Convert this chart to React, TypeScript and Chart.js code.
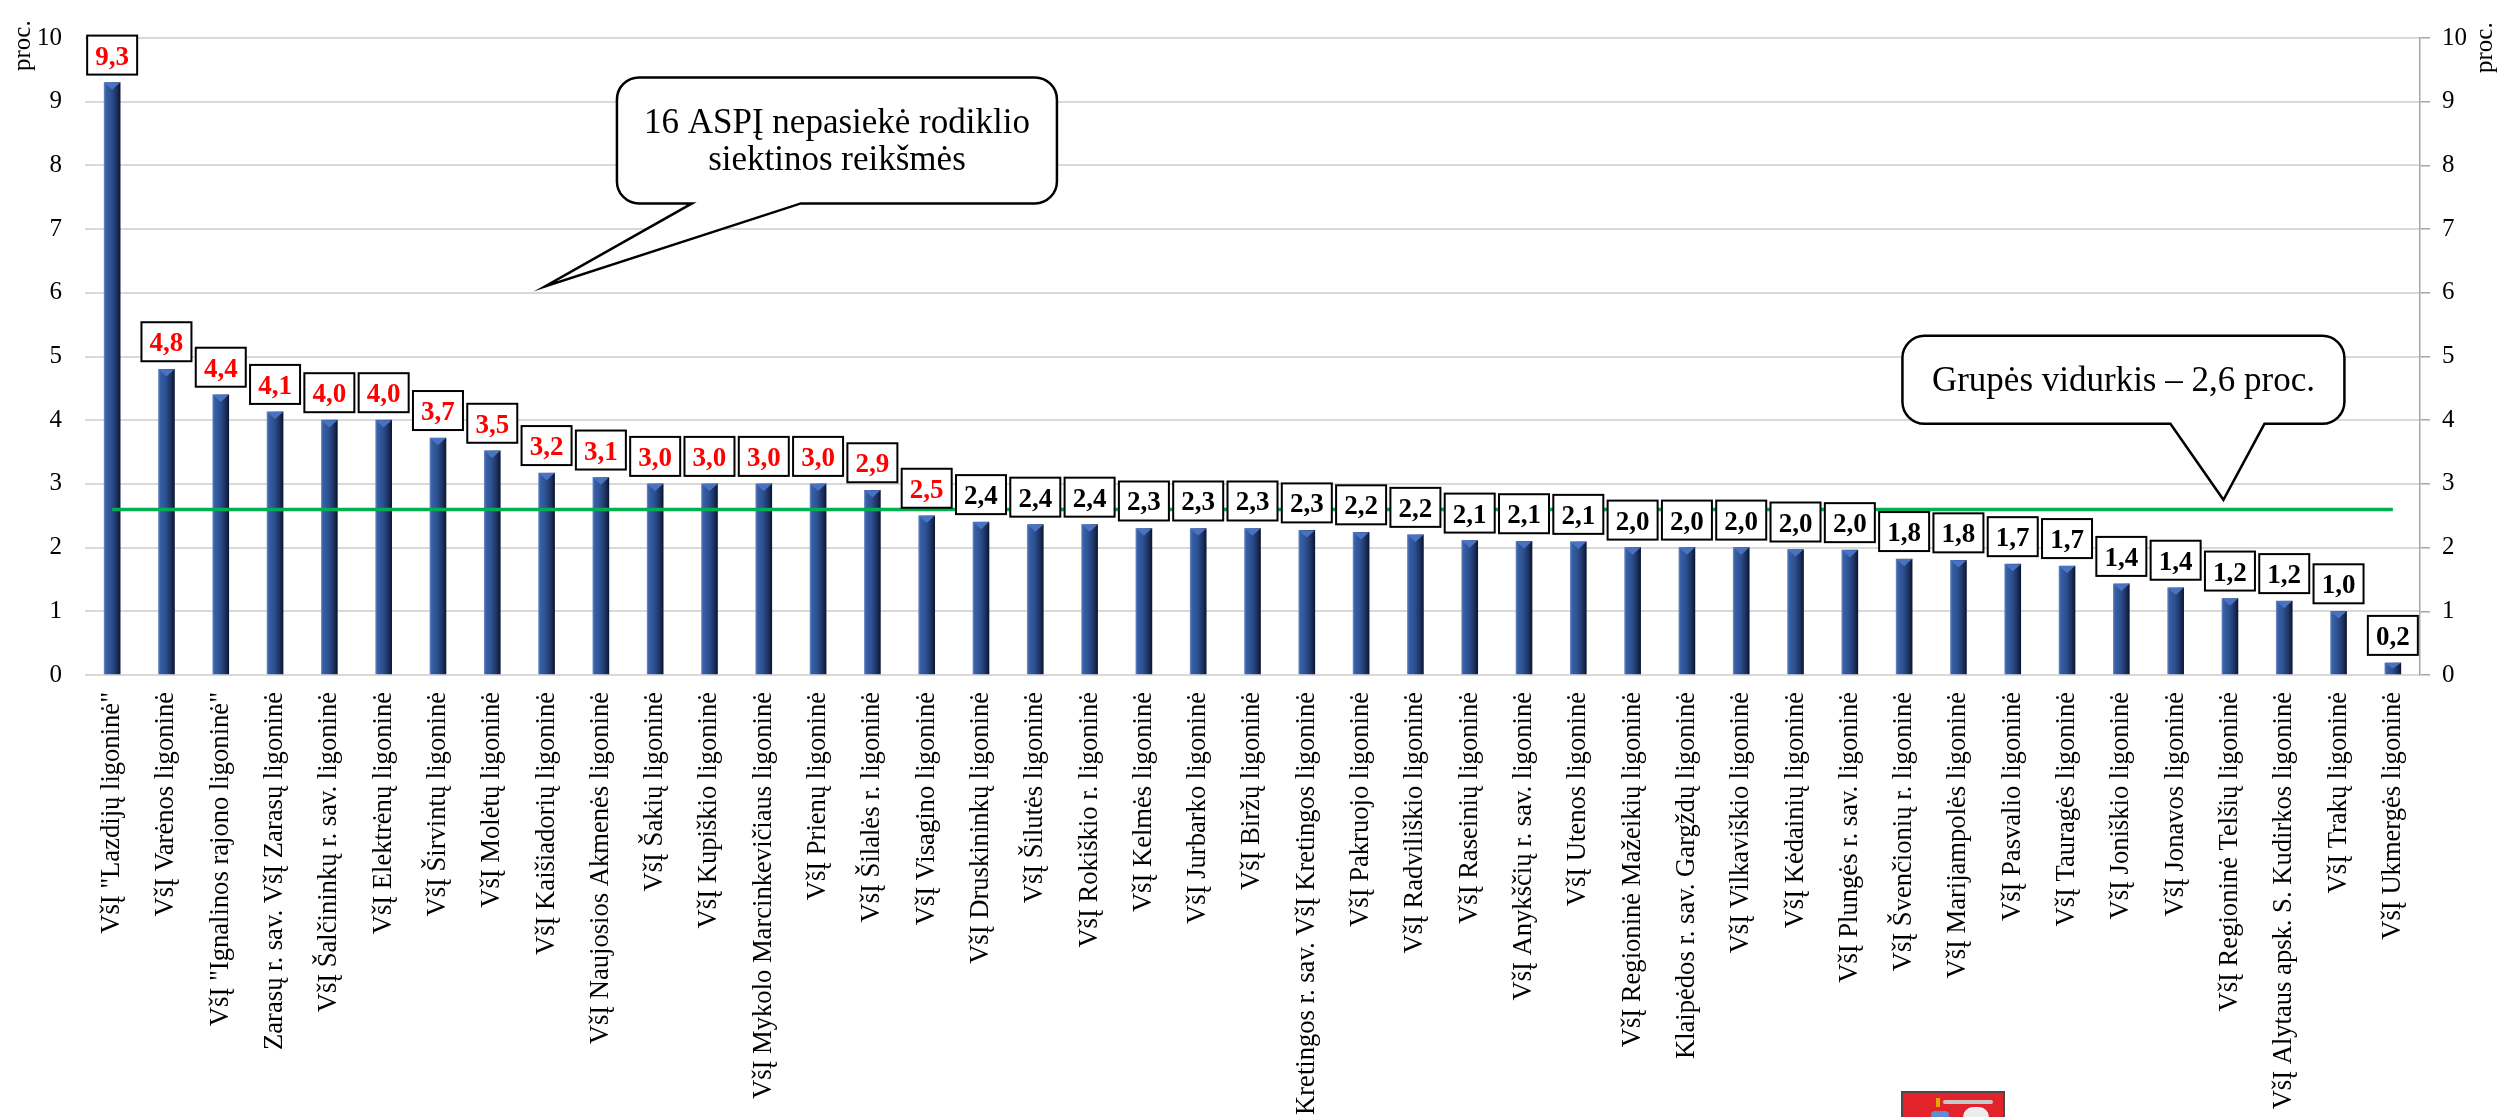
import React, { useEffect, useRef } from 'react';
import { Chart, registerables } from 'chart.js';

Chart.register(...registerables);

// ---------- data ----------
const hospitals: string[] = [
  'VšĮ "Lazdijų ligoninė"',
  'VšĮ Varėnos ligoninė',
  'VšĮ "Ignalinos rajono ligoninė"',
  'Zarasų r. sav. VšĮ Zarasų ligoninė',
  'VšĮ Šalčininkų r. sav. ligoninė',
  'VšĮ Elektrėnų ligoninė',
  'VšĮ Širvintų ligoninė',
  'VšĮ Molėtų ligoninė',
  'VšĮ Kaišiadorių ligoninė',
  'VšĮ Naujosios Akmenės ligoninė',
  'VšĮ Šakių ligoninė',
  'VšĮ Kupiškio ligoninė',
  'VšĮ Mykolo Marcinkevičiaus ligoninė',
  'VšĮ Prienų ligoninė',
  'VšĮ Šilalės r. ligoninė',
  'VšĮ Visagino ligoninė',
  'VšĮ Druskininkų ligoninė',
  'VšĮ Šilutės ligoninė',
  'VšĮ Rokiškio r. ligoninė',
  'VšĮ Kelmės ligoninė',
  'VšĮ Jurbarko ligoninė',
  'VšĮ Biržų ligoninė',
  'Kretingos r. sav. VšĮ Kretingos ligoninė',
  'VšĮ Pakruojo ligoninė',
  'VšĮ Radviliškio ligoninė',
  'VšĮ Raseinių ligoninė',
  'VšĮ Anykščių r. sav. ligoninė',
  'VšĮ Utenos ligoninė',
  'VšĮ Regioninė Mažeikių ligoninė',
  'Klaipėdos r. sav. Gargždų ligoninė',
  'VšĮ Vilkaviškio ligoninė',
  'VšĮ Kėdainių ligoninė',
  'VšĮ Plungės r. sav. ligoninė',
  'VšĮ Švenčionių r. ligoninė',
  'VšĮ Marijampolės ligoninė',
  'VšĮ Pasvalio ligoninė',
  'VšĮ Tauragės ligoninė',
  'VšĮ Joniškio ligoninė',
  'VšĮ Jonavos ligoninė',
  'VšĮ Regioninė Telšių ligoninė',
  'VšĮ Alytaus apsk. S. Kudirkos ligoninė',
  'VšĮ Trakų ligoninė',
  'VšĮ Ukmergės ligoninė',
];

const shareValues: number[] = [
  9.3, 4.8, 4.4, 4.13, 4.0, 4.0, 3.72, 3.52, 3.17, 3.1,
  3.0, 3.0, 3.0, 3.0, 2.9, 2.5, 2.4, 2.36, 2.36, 2.3,
  2.3, 2.3, 2.27, 2.24, 2.2, 2.11, 2.1, 2.09, 2.0, 2.0,
  2.0, 1.97, 1.96, 1.82, 1.8, 1.74, 1.71, 1.43, 1.37, 1.2,
  1.16, 1.0, 0.19,
];

const groupAverage = 2.6;
const missedTargetCount = 16;
const yTickValues: number[] = [0, 1, 2, 3, 4, 5, 6, 7, 8, 9, 10];
const unitLabel = 'proc.';
const targetCalloutLines: string[] = ['16 ASPĮ nepasiekė rodiklio', 'siektinos reikšmės'];
const averageCalloutText = 'Grupės vidurkis – 2,6 proc.';
const targetCalloutAnchor = { index: 7.97, value: 6.1 };
const averageCalloutAnchor = { index: 38.88, value: 2.75 };

// ---------- helpers ----------
const FONT = "'Liberation Serif', 'Times New Roman', serif";
const fmt = (v: number) => (Math.round(v * 10) / 10).toFixed(1).replace('.', ',');
const BAR_DS = 0;

function bubblePath(
  ctx: CanvasRenderingContext2D,
  l: number, t: number, r: number, b: number,
  tailL: number, tailR: number, tipX: number, tipY: number, rad: number
) {
  ctx.beginPath();
  ctx.moveTo(l + rad, t);
  ctx.lineTo(r - rad, t);
  ctx.arcTo(r, t, r, t + rad, rad);
  ctx.lineTo(r, b - rad);
  ctx.arcTo(r, b, r - rad, b, rad);
  ctx.lineTo(tailR, b);
  ctx.lineTo(tipX, tipY);
  ctx.lineTo(tailL, b);
  ctx.lineTo(l + rad, b);
  ctx.arcTo(l, b, l, b - rad, rad);
  ctx.lineTo(l, t + rad);
  ctx.arcTo(l, t, l + rad, t, rad);
  ctx.closePath();
}

const barBevel = {
  id: 'barBevel',
  afterDatasetDraw(chart: any, args: any) {
    if (args.index !== BAR_DS) return;
    const ctx = chart.ctx as CanvasRenderingContext2D;
    const meta = chart.getDatasetMeta(BAR_DS);
    ctx.save();
    meta.data.forEach((el: any) => {
      const half = el.width / 2;
      const depth = Math.min(half * 0.9, (el.base - el.y) * 0.5);
      ctx.beginPath();
      ctx.moveTo(el.x - half, el.y);
      ctx.lineTo(el.x + half, el.y);
      ctx.lineTo(el.x, el.y + depth);
      ctx.closePath();
      ctx.fillStyle = '#4A72C2';
      ctx.fill();
    });
    ctx.restore();
  },
};

const valueBoxes = {
  id: 'valueBoxes',
  afterDatasetsDraw(chart: any) {
    const ctx = chart.ctx as CanvasRenderingContext2D;
    const meta = chart.getDatasetMeta(BAR_DS);
    ctx.save();
    ctx.font = `bold 27px ${FONT}`;
    ctx.textAlign = 'center';
    ctx.textBaseline = 'alphabetic';
    meta.data.forEach((el: any, i: number) => {
      const w = 50;
      const h = 39;
      const bottom = el.y - 8;
      const top = bottom - h;
      const left = el.x - w / 2;
      ctx.fillStyle = '#ffffff';
      ctx.fillRect(left, top, w, h);
      ctx.lineWidth = 2;
      ctx.strokeStyle = '#000000';
      ctx.strokeRect(left, top, w, h);
      ctx.fillStyle = i < missedTargetCount ? '#FF0000' : '#000000';
      ctx.fillText(fmt(shareValues[i]), el.x, top + h / 2 + 9.5);
    });
    ctx.restore();
  },
};

const annotations = {
  id: 'annotations',
  afterDraw(chart: any) {
    const ctx = chart.ctx as CanvasRenderingContext2D;
    const { chartArea, scales } = chart;
    const xs = scales.x;
    const ys = scales.y;
    ctx.save();

    // unit labels
    ctx.font = `25px ${FONT}`;
    ctx.fillStyle = '#000';
    ctx.textAlign = 'left';
    ctx.textBaseline = 'alphabetic';
    ctx.save();
    ctx.translate(chartArea.left - 55, chartArea.top + 33);
    ctx.rotate(-Math.PI / 2);
    ctx.fillText(unitLabel, 0, 0);
    ctx.restore();
    ctx.save();
    ctx.translate(chartArea.right + 72, chartArea.top + 35);
    ctx.rotate(-Math.PI / 2);
    ctx.fillText(unitLabel, 0, 0);
    ctx.restore();

    ctx.lineWidth = 2.5;
    ctx.strokeStyle = '#000';
    ctx.lineJoin = 'miter';

    // callout 1
    {
      const tx = xs.getPixelForValue(targetCalloutAnchor.index);
      const ty = ys.getPixelForValue(targetCalloutAnchor.value);
      const l = tx + 72, r = tx + 512, t = ty - 209, b = ty - 83;
      bubblePath(ctx, l, t, r, b, tx + 147, tx + 256, tx, ty, 22);
      ctx.fillStyle = '#fff';
      ctx.fill();
      ctx.stroke();
      ctx.fillStyle = '#000';
      ctx.font = `35px ${FONT}`;
      ctx.textAlign = 'center';
      ctx.textBaseline = 'middle';
      const cx = (l + r) / 2;
      const cy = (t + b) / 2;
      ctx.fillText(targetCalloutLines[0], cx, cy - 17);
      ctx.fillText(targetCalloutLines[1], cx, cy + 20);
    }

    // callout 2
    {
      const tx = xs.getPixelForValue(averageCalloutAnchor.index);
      const ty = ys.getPixelForValue(averageCalloutAnchor.value);
      const l = tx - 321, r = tx + 121, t = ty - 164, b = ty - 76;
      bubblePath(ctx, l, t, r, b, tx - 53, tx + 41, tx, ty, 22);
      ctx.fillStyle = '#fff';
      ctx.fill();
      ctx.stroke();
      ctx.fillStyle = '#000';
      ctx.font = `35px ${FONT}`;
      ctx.textAlign = 'center';
      ctx.textBaseline = 'middle';
      ctx.fillText(averageCalloutText, (l + r) / 2, (t + b) / 2 + 2);
    }

    ctx.restore();
  },
};

export default function App() {
  const ref = useRef<HTMLCanvasElement>(null);

  useEffect(() => {
    const canvas = ref.current;
    if (!canvas) return;
    const chart = new Chart(canvas, {
      type: 'bar',
      data: {
        labels: hospitals,
        datasets: [
          {
            type: 'bar',
            label: 'proc.',
            data: shareValues,
            barThickness: 16,
            order: 1,
            yAxisID: 'y',
            backgroundColor: (c: any) => {
              const ch = c.chart;
              if (!ch.chartArea || c.type !== 'data') return '#2E5597';
              const x = ch.scales.x.getPixelForValue(c.dataIndex);
              const g = ch.ctx.createLinearGradient(x - 8, 0, x + 8, 0);
              g.addColorStop(0, '#6A88C2');
              g.addColorStop(0.1, '#3760A8');
              g.addColorStop(0.45, '#2D5090');
              g.addColorStop(0.78, '#1D3262');
              g.addColorStop(1, '#0C1630');
              return g;
            },
          } as any,
          {
            type: 'line',
            label: 'Grupės vidurkis',
            data: hospitals.map(() => groupAverage),
            borderColor: '#00B050',
            borderWidth: 3.5,
            pointRadius: 0,
            fill: false,
            order: 0,
            yAxisID: 'y',
          } as any,
        ],
      },
      options: {
        responsive: false,
        animation: false,
        devicePixelRatio: 1,
        layout: { padding: { top: 25, left: 0, right: 0, bottom: 0 } },
        plugins: {
          legend: { display: false },
          tooltip: { enabled: false },
        },
        scales: {
          x: {
            type: 'category',
            offset: true,
            grid: { display: false, drawTicks: false },
            border: { display: false },
            ticks: {
              autoSkip: false,
              minRotation: 90,
              maxRotation: 90,
              padding: 17,
              color: '#000',
              font: { family: FONT, size: 26.6 },
            },
            afterFit: (s: any) => {
              s.height = 442;
            },
          },
          y: {
            position: 'left',
            min: 0,
            max: 10,
            afterBuildTicks: (s: any) => {
              s.ticks = yTickValues.map((v) => ({ value: v }));
            },
            grid: { color: '#D9D9D9', lineWidth: 2, drawTicks: false },
            border: { display: false },
            ticks: {
              padding: 23,
              color: '#000',
              font: { family: FONT, size: 25 },
            },
            afterFit: (s: any) => {
              s.width = 85;
            },
          },
          y2: {
            position: 'right',
            min: 0,
            max: 10,
            afterBuildTicks: (s: any) => {
              s.ticks = yTickValues.map((v) => ({ value: v }));
            },
            grid: {
              drawOnChartArea: false,
              drawTicks: true,
              tickLength: 10,
              color: '#A6A6A6',
              lineWidth: 1.5,
            },
            border: { display: true, color: '#A6A6A6', width: 1.5 },
            ticks: {
              padding: 12,
              color: '#000',
              font: { family: FONT, size: 25 },
            },
            afterFit: (s: any) => {
              s.width = 91;
            },
          },
        },
      } as any,
      plugins: [barBevel, valueBoxes, annotations],
    });
    return () => chart.destroy();
  }, []);

  return (
    <div
      style={{
        position: 'fixed',
        left: 0,
        top: 0,
        width: 2511,
        height: 1117,
        background: '#fff',
        overflow: 'hidden',
      }}
    >
      <canvas ref={ref} width={2511} height={1117} style={{ display: 'block', width: 2511, height: 1117 }} />
      <div
        style={{
          position: 'absolute',
          left: 1901,
          top: 1091,
          width: 100,
          height: 40,
          background: '#E3232B',
          border: '2px solid #4A4A4A',
        }}
      >
        <div style={{ position: 'absolute', left: 40, top: 7, width: 50, height: 4, background: '#C8C8C8', borderRadius: 2 }} />
        <div style={{ position: 'absolute', left: 33, top: 5, width: 4, height: 9, background: '#E0A800' }} />
        <div style={{ position: 'absolute', left: 60, top: 14, width: 26, height: 20, background: '#EDEDED', borderRadius: 10 }} />
        <div style={{ position: 'absolute', left: 28, top: 18, width: 18, height: 16, background: '#5B8FD0', borderRadius: 4 }} />
      </div>
    </div>
  );
}
